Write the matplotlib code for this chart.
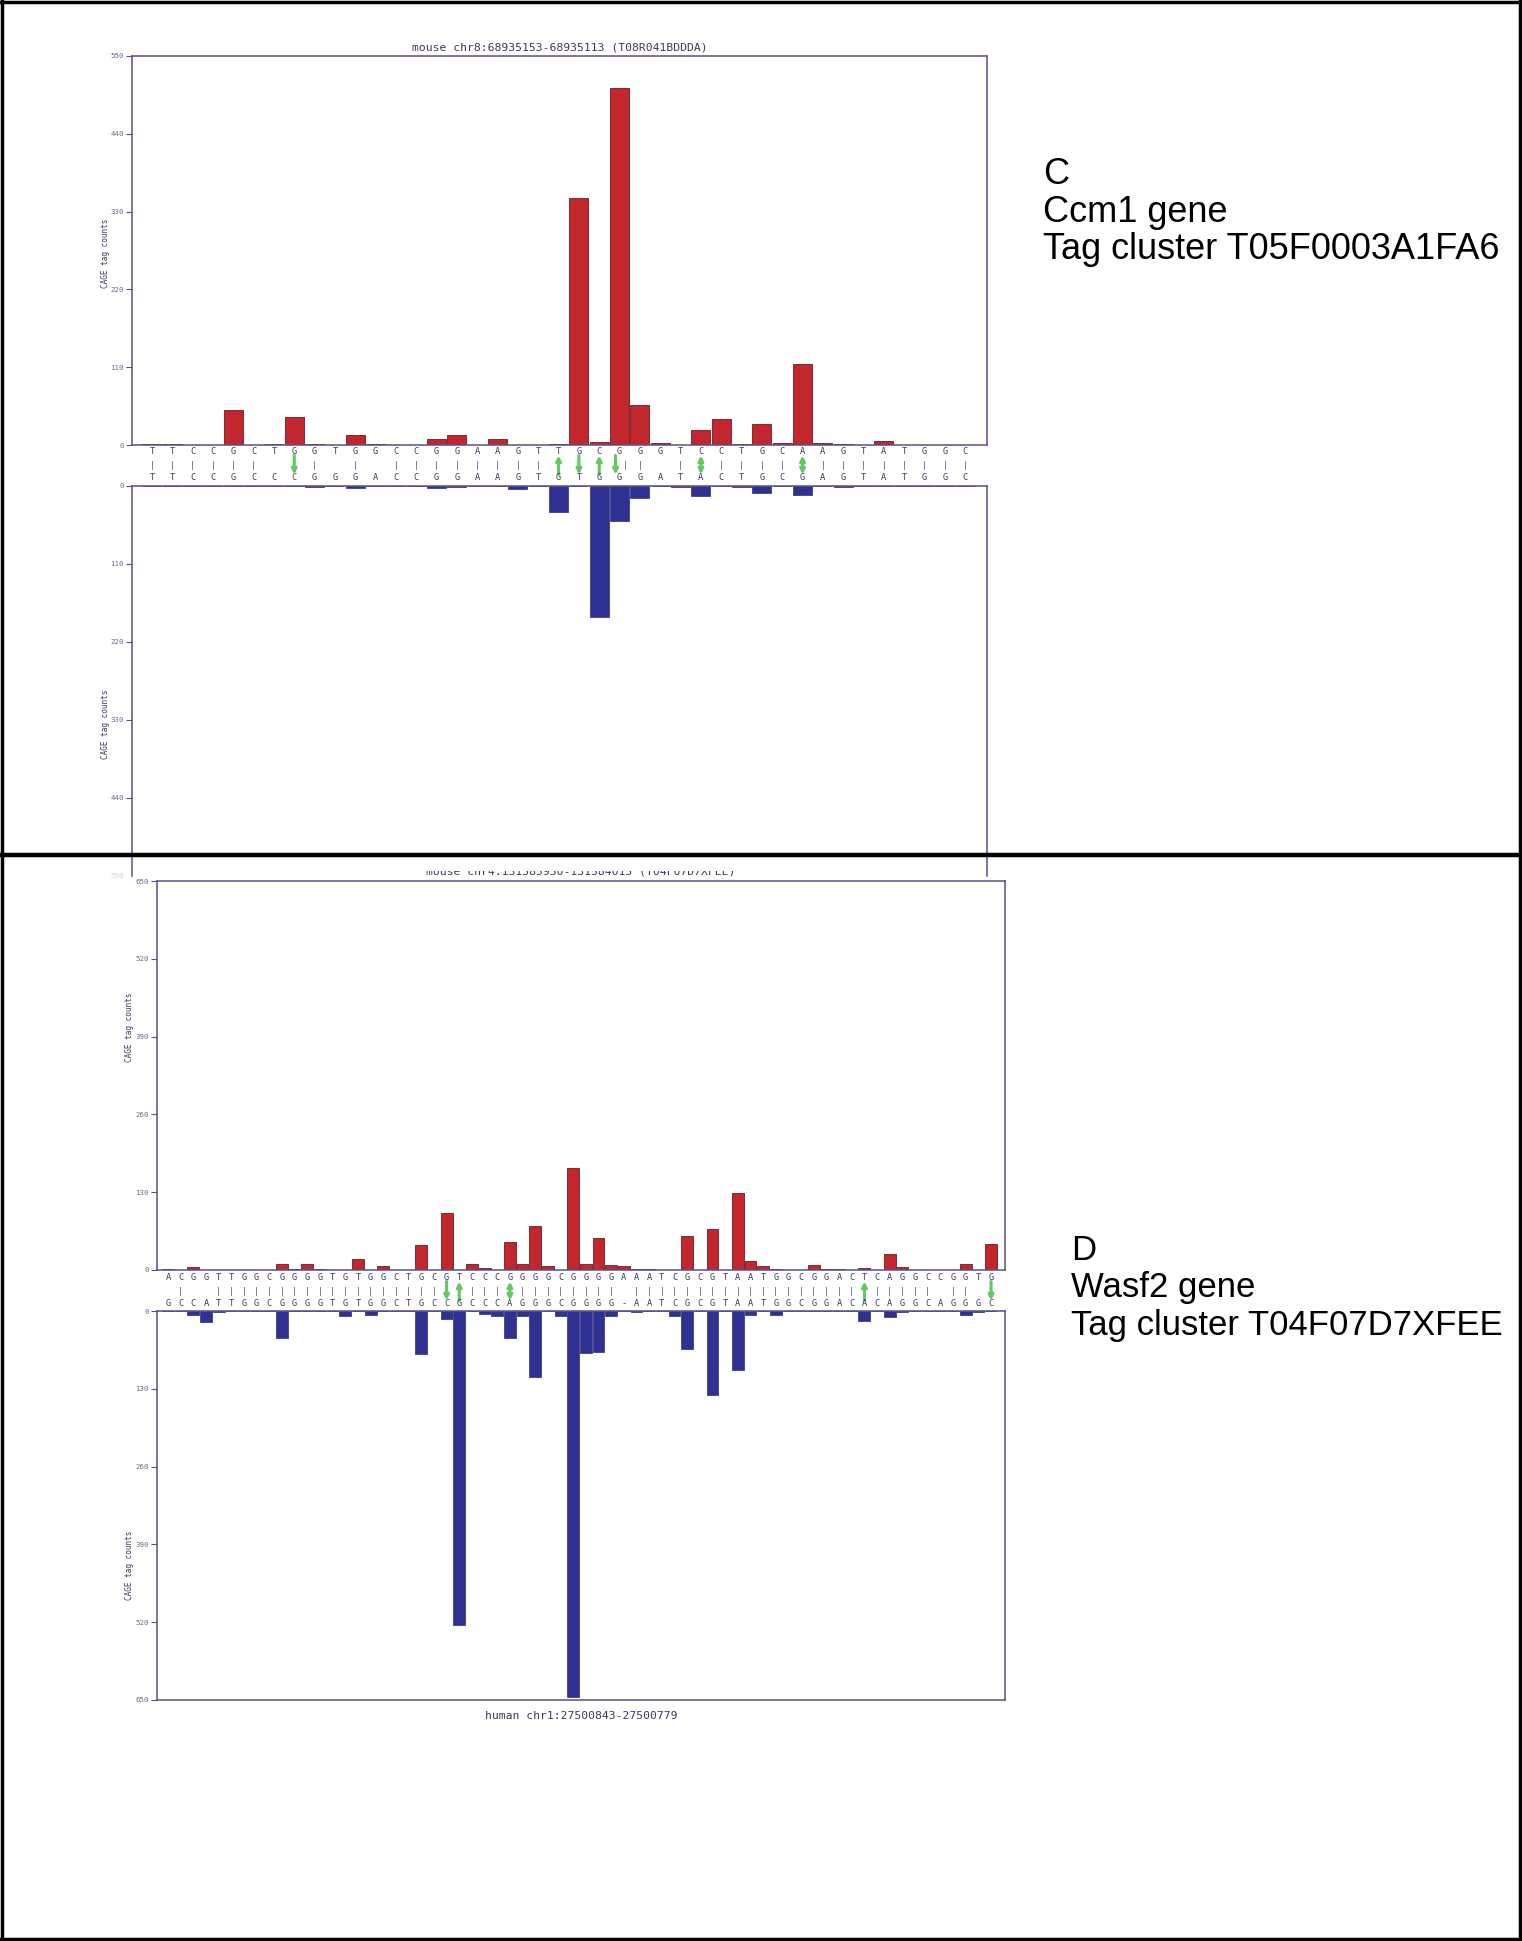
import matplotlib.pyplot as plt
from matplotlib.patches import FancyArrowPatch
from matplotlib.lines import Line2D
from matplotlib.transforms import Bbox, TransformedBbox

W, H = 1522, 1941

# panel C: Ccm1, mouse (top strand) vs human (bottom strand)
c_mouse_seq = list("TTCCGCTGGTGGCCGGAAGTTGCGGGTCCTGCAAGTATGGC")
c_human_seq = list("TTCCGCCCGGGACCGGAAGTGTGGGATACTGCGAGTATGGC")
c_mouse_tags = [1, 2, 0, 0, 49, 0, 2, 40, 1, 0,
                14, 2, 0, 0, 9, 14, 0, 9, 0, 0,
                2, 349, 4, 505, 56, 3, 0, 21, 37, 2,
                30, 3, 115, 3, 2, 0, 5, 0, 0, 0, 0]
c_human_tags = [0, 0, 0, 0, 0, 0, 0, 0, 2, 0,
                3, 0, 0, 0, 3, 2, 0, 0, 4, 0,
                37, 0, 185, 49, 17, 0, 1, 14, 0, 1,
                10, 0, 12, 0, 1, 0, 0, 0, 0, 0, 0]
c_arrow_pos = [8, 21, 22, 23, 24, 28, 33]
c_arrow_dir = ['down', 'up', 'down', 'up', 'down', 'both', 'both']
c_ticks = [0, 110, 220, 330, 440, 550]

# panel D: Wasf2
d_mouse_seq = list("ACGGTTGGCGGGGTGTGGCTGCGTCCCGGGGCGGGGAAATCGCGTAATGGCGGACTCAGGCCGGTG")
d_human_seq = list("GCCATTGGCGGGGTGTGGCTGCCGCCCAGGGCGGGG-AATCGCGTAATGGCGGACACAGGCAGGGC")
d_mouse_tags = [1, 0, 5, 0, 0, 0, 0, 0, 0, 10,
                1, 10, 2, 0, 0, 19, 0, 7, 0, 0,
                42, 0, 95, 0, 10, 3, 0, 46, 10, 74,
                7, 0, 170, 10, 54, 8, 6, 1, 1, 0,
                0, 56, 0, 68, 0, 128, 15, 7, 2, 0,
                0, 8, 1, 1, 0, 4, 0, 27, 5, 0,
                0, 0, 0, 10, 0, 44]
d_human_tags = [0, 0, 6, 18, 1, 0, 0, 0, 0, 45,
                0, 0, 0, 0, 8, 0, 6, 0, 0, 0,
                72, 0, 14, 525, 0, 5, 9, 45, 8, 110,
                0, 8, 645, 70, 68, 8, 0, 2, 0, 0,
                8, 64, 0, 140, 0, 98, 7, 0, 7, 0,
                0, 0, 0, 0, 0, 17, 0, 10, 2, 0,
                0, 0, 0, 7, 1, 0]
d_arrow_pos = [23, 24, 28, 56, 66]
d_arrow_dir = ['down', 'up', 'both', 'up', 'down']
d_ticks = [0, 130, 260, 390, 520, 650]

RED = '#c1272d'
RED_EDGE = '#7e2a36'
BLUE = '#2e3192'
BLUE_EDGE = '#4a4c8e'
GREEN = '#62c862'
SPINE = '#52528a'
TXT = '#3a3a5e'
MONO = 'DejaVu Sans Mono'

fig = plt.figure(figsize=(W / 100, H / 100), dpi=100)


def px_axes(x0, y0, x1, y1):
    return fig.add_axes([x0 / W, 1 - y1 / H, (x1 - x0) / W, (y1 - y0) / H])


def style(ax, xlim, ticks, bottom=True, faded_last=False):
    ax.set_xlim(*xlim)
    ax.set_xticks([])
    ax.set_yticks(ticks)
    ax.set_yticklabels([str(t) for t in ticks], family=MONO, fontsize=5.3, color='#6a6a90')
    ax.tick_params(axis='y', length=4, width=0.8, color=SPINE, pad=2)
    for s in ax.spines.values():
        s.set_color(SPINE)
        s.set_linewidth(1.1)
    ax.spines['bottom'].set_visible(bottom)
    if faded_last:
        ax.get_yticklabels()[-1].set_color('#d0d0dc')
        ax.yaxis.get_major_ticks()[-1].tick1line.set_visible(False)


def panel(box, xlim, ymax, ticks, mouse_seq, human_seq, mouse_tags, human_tags,
          arrow_pos, arrow_dir, rows, low_bottom, low_spine, lab_x, lab_pos):
    x0, x1, up0, base = box
    r_top, r_mid, r_bot, low_top = rows
    xs = range(len(mouse_tags))

    up = px_axes(x0, up0, x1, base)
    up.bar(xs, mouse_tags, width=0.94, color=RED, edgecolor=RED_EDGE, linewidth=0.7)
    up.set_ylim(0, ymax)
    style(up, xlim, ticks)

    lo = px_axes(x0, low_top, x1, low_bottom)
    lo.bar(xs, human_tags, width=0.94, color=BLUE, edgecolor=BLUE_EDGE, linewidth=0.7)
    lo.set_ylim(ymax, 0)
    style(lo, xlim, ticks, bottom=low_spine, faded_last=not low_spine)

    # alignment rows between the two strands
    sq = px_axes(x0, base, x1, low_top)
    sq.set_xlim(*xlim)
    sq.set_ylim(low_top, base)
    sq.axis('off')
    for i, (a, b) in enumerate(zip(mouse_seq, human_seq)):
        sq.text(i, r_top, a, ha='center', va='center', family=MONO, fontsize=6.3, color=TXT)
        sq.text(i, r_bot, b, ha='center', va='center', family=MONO, fontsize=6.3, color=TXT)
        if a == b:
            dx = 0.28 if (i + 1) in arrow_pos else 0
            sq.text(i + dx, r_mid, '|', ha='center', va='center', family=MONO,
                    fontsize=5.5, color=TXT)
    for p, d in zip(arrow_pos, arrow_dir):
        i = p - 1
        dx = -0.2 if mouse_seq[i] == human_seq[i] else 0
        lo_y, hi_y = r_mid + 9.5, r_mid - 9.5
        if d == 'up':
            a, b, st = (i + dx, lo_y), (i + dx, hi_y), '-|>'
        elif d == 'down':
            a, b, st = (i + dx, hi_y), (i + dx, lo_y), '-|>'
        else:
            a, b, st = (i + dx, lo_y), (i + dx, hi_y), '<|-|>'
        sq.add_patch(FancyArrowPatch(a, b, arrowstyle=st, mutation_scale=7, lw=2.2,
                                     color=GREEN, shrinkA=0, shrinkB=0))

    # axis labels
    for ly in lab_pos:
        fig.text(lab_x / W, 1 - ly / H, 'CAGE tag counts', rotation=90, ha='center',
                 va='center', family=MONO, fontsize=5.6, color=TXT)


# panel C
panel((132, 987, 56, 445), (-0.98, 41.07), 550, c_ticks,
      c_mouse_seq, c_human_seq, c_mouse_tags, c_human_tags, c_arrow_pos, c_arrow_dir,
      (452, 465, 478, 486), 876, False, 105, (253, 724))
fig.text(560 / W, 1 - 47 / H, 'mouse chr8:68935153-68935113 (T08R041BDDDA)',
         ha='center', va='center', family=MONO, fontsize=8.2, color=TXT)

# panel D
panel((157, 1005, 881, 1270), (-0.87, 66.1), 650, d_ticks,
      d_mouse_seq, d_human_seq, d_mouse_tags, d_human_tags, d_arrow_pos, d_arrow_dir,
      (1277, 1291, 1304, 1311), 1700, True, 129, (1027, 1565))
t = fig.text(581 / W, 1 - 872 / H, 'mouse chr4:131585950-131584015 (T04F07D7XFEE)',
             ha='center', va='center', family=MONO, fontsize=8.2, color=TXT)
t.set_clip_box(TransformedBbox(Bbox.from_extents(0, 0, 1, 1 - 871 / H), fig.transFigure))
t.set_clip_on(True)
fig.text(581 / W, 1 - 1716 / H, 'human chr1:27500843-27500779',
         ha='center', va='center', family=MONO, fontsize=8.2, color=TXT)

# gene captions
for (x, y0, size), lines in [((1043, 174, 26), ['C', 'Ccm1 gene', 'Tag cluster T05F0003A1FA6']),
                             ((1071, 1250, 25), ['D', 'Wasf2 gene', 'Tag cluster T04F07D7XFEE'])]:
    for k, s in enumerate(lines):
        fig.text(x / W, 1 - (y0 + 38 * k) / H, s, ha='left', va='center',
                 family='Liberation Sans', fontsize=size, color='black')


# outer frame and divider
def hline(y, lw):
    fig.add_artist(Line2D([1 / W, 1 - 1 / W], [1 - y / H] * 2, transform=fig.transFigure,
                          color='black', lw=lw))


def vline(x, lw):
    fig.add_artist(Line2D([x / W] * 2, [1 / H, 1 - 1 / H], transform=fig.transFigure,
                          color='black', lw=lw))


hline(2, 2.5)
hline(H - 2, 2.5)
hline(855, 3.2)
vline(2, 2.5)
vline(W - 2, 2.5)

fig.savefig('out.png', dpi=100, facecolor='white')
